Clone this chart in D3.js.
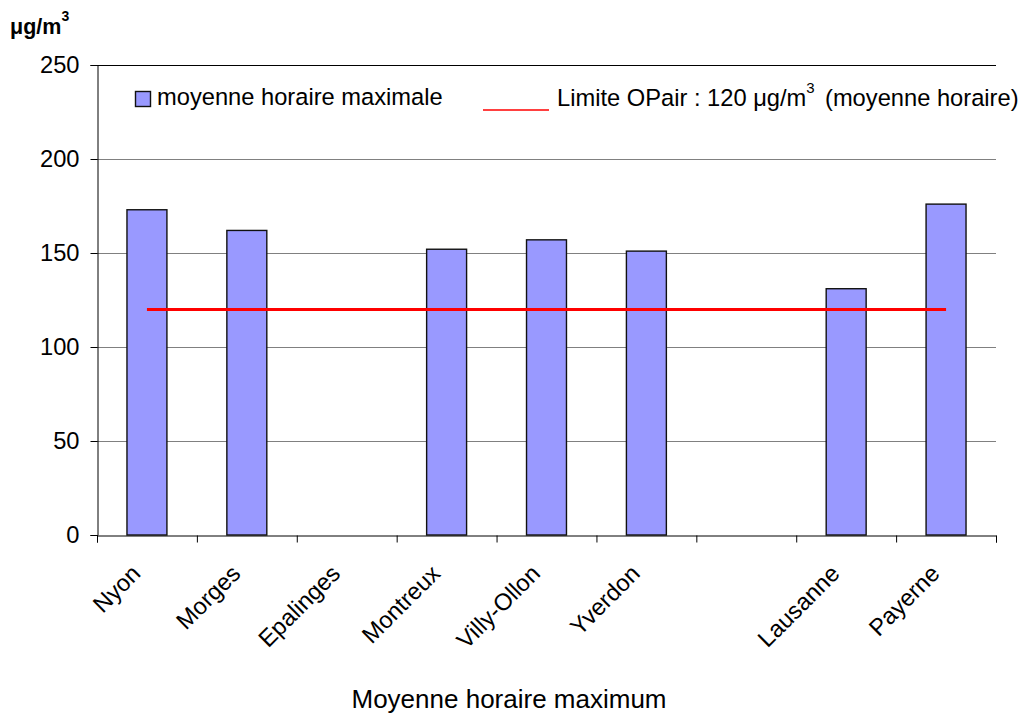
<!DOCTYPE html>
<html>
<head>
<meta charset="utf-8">
<script src="https://cdn.jsdelivr.net/npm/d3@7"></script>
<style>
  html, body { margin: 0; padding: 0; background: #fff; }
  svg { display: block; font-family: "Liberation Sans", Arial, sans-serif; }
</style>
</head>
<body>
<svg id="chart" width="1029" height="713"></svg>
<script>
const categories = ["Nyon", "Morges", "Epalinges", "Montreux", "Villy-Ollon", "Yverdon", "", "Lausanne", "Payerne"];
const maxHourly = [173, 162, null, 152, 157, 151, null, 131, 176];
const limitValue = 120;
const yTicks = [0, 50, 100, 150, 200, 250];
const seriesLabel = "moyenne horaire maximale";
const limitLabel = "Limite OPair : 120 μg/m";
const limitLabelTail = "(moyenne horaire)";
const xTitle = "Moyenne horaire maximum";

(function () {
const svg = d3.select("#chart");
const pLeft = 97, pRight = 996, pTop = 65, pBottom = 535;
const fs = 23.7;

const x = d3.scaleBand().domain(d3.range(categories.length)).range([pLeft, pRight]).padding(0);
const y = d3.scaleLinear().domain([0, 250]).range([pBottom, pTop]);

// gridlines
svg.append("g").selectAll("line").data(yTicks.filter(d => d > 0)).join("line")
  .attr("x1", pLeft).attr("x2", pRight)
  .attr("y1", d => Math.round(y(d)) + 0.5).attr("y2", d => Math.round(y(d)) + 0.5)
  .attr("stroke", d => d === 250 ? "#000" : "#808080").attr("stroke-width", 1);

// bars
const bw = x.bandwidth() * 0.4;
svg.append("g").selectAll("rect").data(maxHourly.map((v, i) => ({v, i})).filter(d => d.v != null)).join("rect")
  .attr("x", d => x(d.i) + (x.bandwidth() - bw) / 2)
  .attr("width", bw)
  .attr("y", d => y(d.v))
  .attr("height", d => y(0) - y(d.v))
  .attr("fill", "#9999FF").attr("stroke", "#111").attr("stroke-width", 1.4);

// limit line
svg.append("line")
  .attr("x1", x(0) + x.bandwidth() / 2)
  .attr("x2", x(categories.length - 1) + x.bandwidth() / 2)
  .attr("y1", y(limitValue)).attr("y2", y(limitValue))
  .attr("stroke", "#FF0000").attr("stroke-width", 3);

// y axis
const yAxis = d3.axisLeft(y).tickValues(yTicks).tickSize(7).tickPadding(11).tickFormat(d3.format("d"));
const gy = svg.append("g").attr("transform", `translate(${pLeft + 0.5},0)`).call(yAxis);
gy.select(".domain").attr("stroke", "#000");
gy.selectAll(".tick line").attr("stroke", "#000");
gy.selectAll("text").attr("font-size", fs).attr("fill", "#000").attr("font-family", "Liberation Sans, Arial, sans-serif");

// x axis
const xb = d3.scaleLinear().domain([0, categories.length]).range([pLeft, pRight]);
const gx = svg.append("g").attr("transform", `translate(0,${pBottom + 0.5})`)
  .call(d3.axisBottom(xb).tickValues(d3.range(categories.length + 1)).tickSize(7).tickFormat(""));
gx.select(".domain").attr("stroke", "#000");
gx.selectAll(".tick line").attr("stroke", "#000");

// category labels
svg.append("g").selectAll("text").data(categories).join("text")
  .attr("transform", (d, i) => `translate(${x(i) + x.bandwidth() / 2 - 5},${pBottom + 40}) rotate(-45)`)
  .attr("text-anchor", "end")
  .attr("font-size", fs).attr("fill", "#000")
  .text(d => d);

// y unit label
const yl = svg.append("text").attr("x", 10).attr("y", 34).attr("font-size", 21.5).attr("font-weight", "bold");
yl.append("tspan").text("μg/m");
yl.append("tspan").attr("dy", -13).attr("font-size", 14).text("3");

// x title
svg.append("text").attr("x", 509).attr("y", 708).attr("text-anchor", "middle")
  .attr("font-size", 26).attr("fill", "#000").text(xTitle);

// legend
svg.append("rect").attr("x", 135.5).attr("y", 91.5).attr("width", 15).attr("height", 15)
  .attr("fill", "#9999FF").attr("stroke", "#111").attr("stroke-width", 1.4);
svg.append("text").attr("x", 157).attr("y", 105).attr("font-size", fs).text(seriesLabel);
svg.append("line").attr("x1", 483).attr("x2", 549).attr("y1", 110).attr("y2", 110)
  .attr("stroke", "#FF0000").attr("stroke-width", 1.5);
const lt = svg.append("text").attr("x", 557).attr("y", 106).attr("font-size", fs);
lt.append("tspan").text(limitLabel);
lt.append("tspan").attr("dy", -13).attr("font-size", 15).text("3");
svg.append("text").attr("x", 825).attr("y", 106).attr("font-size", fs).text(limitLabelTail);
})();
</script>
</body>
</html>
